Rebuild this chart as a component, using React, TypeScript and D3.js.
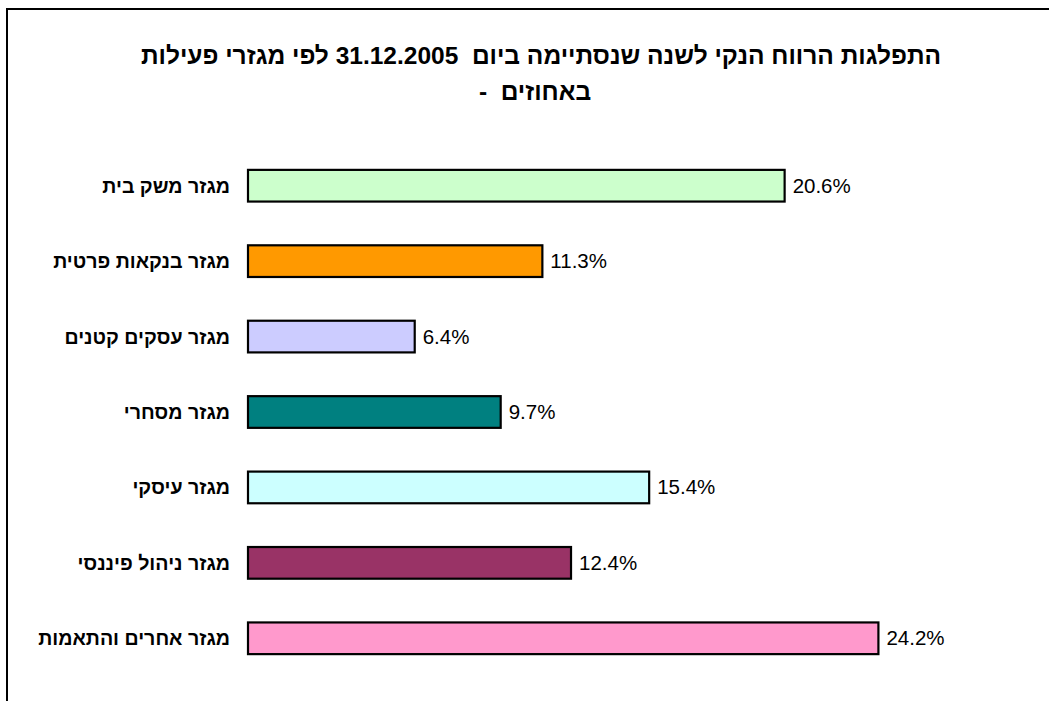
import React from "react";
import * as d3 from "d3";

const categories = [
  "מגזר משק בית",
  "מגזר בנקאות פרטית",
  "מגזר עסקים קטנים",
  "מגזר מסחרי",
  "מגזר עיסקי",
  "מגזר ניהול פיננסי",
  "מגזר אחרים והתאמות",
];
const values = [20.6, 11.3, 6.4, 9.7, 15.4, 12.4, 24.2];
const colors = ["#CCFFCC", "#FF9900", "#CCCCFF", "#008080", "#CCFFFF", "#993366", "#FF99CC"];
const titleLines = [
  "התפלגות הרווח הנקי לשנה שנסתיימה ביום  31.12.2005 לפי מגזרי פעילות",
  "באחוזים  -",
];

const W = 1049;
const H = 701;

export default function App() {
  const y = d3.scaleBand<string>().domain(categories).range([148, 676]).paddingInner(0.58).paddingOuter(0.29);
  const x = d3.scaleLinear().domain([0, 25]).range([248, 248 + 26.05 * 25]);
  const font = "'Liberation Sans', Arial, sans-serif";
  return (
    <svg width={W} height={H} style={{ position: "absolute", left: 0, top: 0 }} fontFamily={font}>
      <rect x={0} y={0} width={W} height={H} fill="#fff" />
      <rect x={7} y={9} width={W + 20} height={H + 20} fill="none" stroke="#000" strokeWidth={2} />
      {titleLines.map((t, i) => (
        <text key={i} x={i === 0 ? 541 : 535} y={64 + i * 36} textAnchor="middle" direction="rtl" fontWeight="bold" fontSize={24.5} fill="#000" style={{ whiteSpace: "pre" }}>
          {t}
        </text>
      ))}
      {categories.map((c, i) => {
        const yy = y(c)!;
        const bw = y.bandwidth();
        return (
          <g key={c}>
            <rect x={x(0)} y={yy} width={x(values[i]) - x(0)} height={bw} fill={colors[i]} stroke="#000" strokeWidth={2.2} />
            <text x={230} y={yy + bw / 2 + 7} textAnchor="end" fontWeight="bold" fontSize={19.6} fill="#000">
              {c}
            </text>
            <text x={x(values[i]) + 8} y={yy + bw / 2 + 7} fontSize={20.5} fill="#000">
              {values[i].toFixed(1) + "%"}
            </text>
          </g>
        );
      })}
    </svg>
  );
}
